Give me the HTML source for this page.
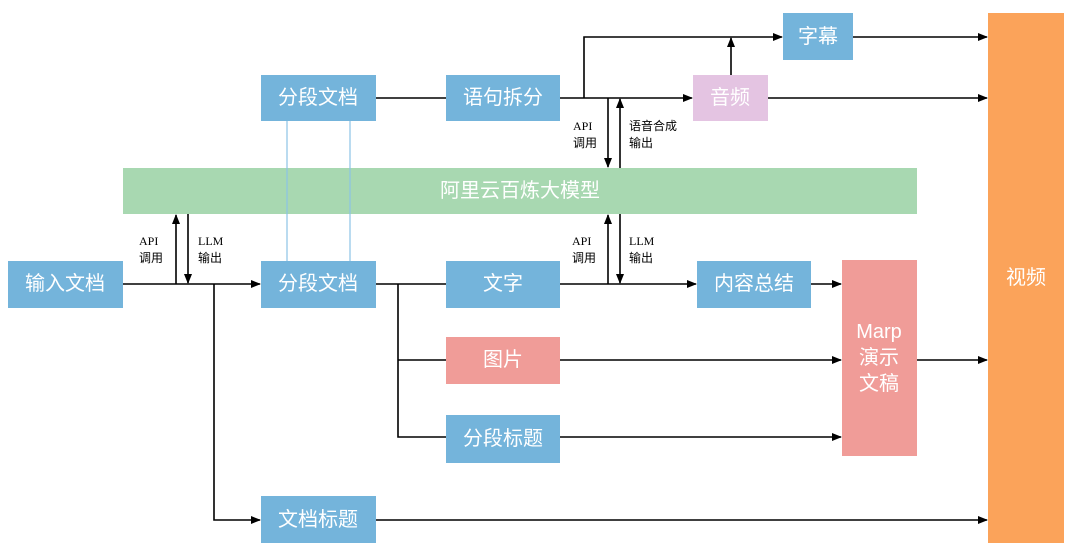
<!DOCTYPE html>
<html><head><meta charset="utf-8"><style>
body{margin:0;background:#fff;width:1080px;height:553px;overflow:hidden}
</style></head><body>
<svg width="1080" height="553" xmlns="http://www.w3.org/2000/svg" font-family="Liberation Sans, Noto Sans CJK SC, sans-serif">
<defs><marker id="a" markerWidth="10" markerHeight="10" refX="9" refY="5" orient="auto" markerUnits="userSpaceOnUse"><path d="M0,1 L10,5 L0,9 z" fill="#000"/></marker></defs>
<g fill="#fff" font-size="20" text-anchor="middle" dominant-baseline="central">
<rect x="123" y="168" width="794" height="46" fill="#a8d8b1"/><text x="520" y="191">阿里云百炼大模型</text>
<rect x="988" y="13" width="76" height="530" fill="#fba35a"/><text x="1026" y="278">视频</text>
<rect x="8" y="261" width="115" height="47" fill="#74b4db"/><text x="65" y="284">输入文档</text>
<rect x="261" y="75" width="115" height="46" fill="#74b4db"/><text x="318" y="98">分段文档</text>
<rect x="261" y="261" width="115" height="47" fill="#74b4db"/><text x="318" y="284">分段文档</text>
<rect x="446" y="75" width="114" height="46" fill="#74b4db"/><text x="503" y="98">语句拆分</text>
<rect x="783" y="13" width="70" height="47" fill="#74b4db"/><text x="818" y="37">字幕</text>
<rect x="693" y="75" width="75" height="46" fill="#e4c4e2"/><text x="730" y="98">音频</text>
<rect x="446" y="261" width="114" height="47" fill="#74b4db"/><text x="503" y="284">文字</text>
<rect x="697" y="261" width="114" height="47" fill="#74b4db"/><text x="754" y="284">内容总结</text>
<rect x="842" y="260" width="75" height="196" fill="#f09c98"/><text x="879" y="332">Marp</text><text x="879" y="358">演示</text><text x="879" y="384">文稿</text>
<rect x="446" y="337" width="114" height="47" fill="#f09c98"/><text x="503" y="360">图片</text>
<rect x="446" y="415" width="114" height="48" fill="#74b4db"/><text x="503" y="439">分段标题</text>
<rect x="261" y="496" width="115" height="47" fill="#74b4db"/><text x="318" y="520">文档标题</text>
</g>
<g stroke="#8cc3e6" stroke-width="1.2"><line x1="287" y1="121" x2="287" y2="261"/><line x1="350" y1="121" x2="350" y2="261"/></g>
<g stroke="#000" stroke-width="1.6" fill="none">
<line x1="123" y1="284" x2="260" y2="284" marker-end="url(#a)"/>
<line x1="176" y1="284" x2="176" y2="215" marker-end="url(#a)"/>
<line x1="188" y1="214" x2="188" y2="283" marker-end="url(#a)"/>
<polyline points="214,284 214,520 260,520" marker-end="url(#a)"/>
<line x1="376" y1="284" x2="446" y2="284"/>
<polyline points="398,284 398,437 446,437"/>
<line x1="398" y1="360" x2="446" y2="360"/>
<line x1="376" y1="98" x2="446" y2="98"/>
<line x1="560" y1="98" x2="692" y2="98" marker-end="url(#a)"/>
<polyline points="584,98 584,37 782,37" marker-end="url(#a)"/>
<line x1="608" y1="98" x2="608" y2="167" marker-end="url(#a)"/>
<line x1="620" y1="168" x2="620" y2="99" marker-end="url(#a)"/>
<line x1="731" y1="75" x2="731" y2="38" marker-end="url(#a)"/>
<line x1="853" y1="37" x2="987" y2="37" marker-end="url(#a)"/>
<line x1="768" y1="98" x2="987" y2="98" marker-end="url(#a)"/>
<line x1="560" y1="284" x2="696" y2="284" marker-end="url(#a)"/>
<line x1="608" y1="284" x2="608" y2="215" marker-end="url(#a)"/>
<line x1="620" y1="214" x2="620" y2="283" marker-end="url(#a)"/>
<line x1="811" y1="284" x2="841" y2="284" marker-end="url(#a)"/>
<line x1="560" y1="360" x2="841" y2="360" marker-end="url(#a)"/>
<line x1="560" y1="437" x2="841" y2="437" marker-end="url(#a)"/>
<line x1="917" y1="360" x2="987" y2="360" marker-end="url(#a)"/>
<line x1="376" y1="520" x2="987" y2="520" marker-end="url(#a)"/>
</g>
<g font-size="12" fill="#000">
<text x="139" y="245" font-family="Liberation Serif, serif">API</text><text x="139" y="262">调用</text>
<text x="198" y="245" font-family="Liberation Serif, serif">LLM</text><text x="198" y="262">输出</text>
<text x="573" y="130" font-family="Liberation Serif, serif">API</text><text x="573" y="147">调用</text>
<text x="629" y="130">语音合成</text><text x="629" y="147">输出</text>
<text x="572" y="245" font-family="Liberation Serif, serif">API</text><text x="572" y="262">调用</text>
<text x="629" y="245" font-family="Liberation Serif, serif">LLM</text><text x="629" y="262">输出</text>
</g>
</svg>
</body></html>
